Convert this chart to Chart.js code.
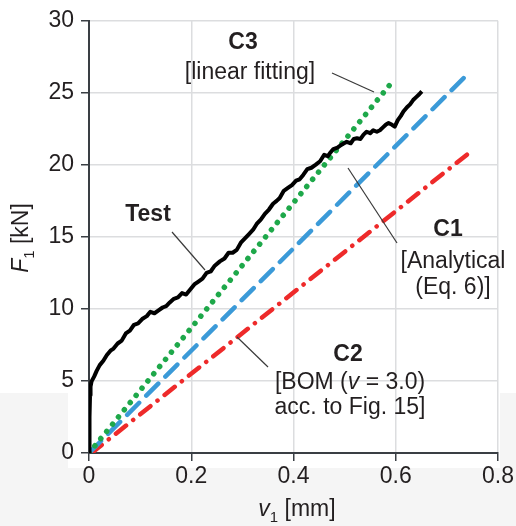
<!DOCTYPE html>
<html>
<head>
<meta charset="utf-8">
<script src="https://cdn.jsdelivr.net/npm/chart.js@4.4.1/dist/chart.umd.min.js"></script>
<style>
  html, body { margin: 0; padding: 0; background: #fff; }
  #wrap { width: 516px; height: 526px; }
</style>
</head>
<body>
<div id="wrap"><canvas id="LoadChart" width="516" height="526"></canvas></div>
<script>
(function () {
  "use strict";

  // Tick values
  const xTicks = [0, 0.2, 0.4, 0.6, 0.8];
  const yTicks = [0, 5, 10, 15, 20, 25, 30];

  // Test curve (v1 in mm, F1 in kN)
  const testV = [
    0, 0.001, 0.002, 0.003, 0.005, 0.010, 0.015, 0.021, 0.028, 0.035,
    0.042, 0.048, 0.056, 0.064, 0.072, 0.080, 0.088, 0.096, 0.104, 0.113,
    0.120, 0.128, 0.136, 0.144, 0.151, 0.158, 0.166, 0.174, 0.182, 0.190,
    0.198, 0.206, 0.214, 0.222, 0.230, 0.238, 0.246, 0.256, 0.265, 0.273,
    0.281, 0.289, 0.297, 0.305, 0.313, 0.321, 0.328, 0.336, 0.344, 0.352,
    0.360, 0.367, 0.373, 0.381, 0.389, 0.397, 0.405, 0.412, 0.419, 0.427,
    0.435, 0.443, 0.452, 0.460, 0.467, 0.471, 0.478, 0.486, 0.494, 0.504,
    0.512, 0.518, 0.524, 0.531, 0.537, 0.543, 0.550, 0.556, 0.563, 0.569,
    0.575, 0.581, 0.586, 0.592, 0.598, 0.604, 0.610, 0.615, 0.622, 0.628,
    0.634, 0.640, 0.646, 0.651
  ];
  const testF = [
    0, 2.5, 4.0, 4.6, 4.97, 5.3, 5.7, 6.1, 6.4, 6.8,
    7.1, 7.25, 7.6, 7.8, 8.3, 8.5, 8.9, 9.0, 9.3, 9.5,
    9.8, 9.7, 9.9, 10.1, 10.2, 10.45, 10.7, 10.8, 11.1, 11.0,
    11.35, 11.7, 11.9, 12.1, 12.5, 12.6, 13.0, 13.3, 13.5, 13.9,
    13.9, 14.1, 14.6, 14.9, 15.2, 15.5, 15.9, 16.2, 16.6, 16.9,
    17.3, 17.5, 17.7, 18.2, 18.4, 18.6, 18.9, 19.0, 19.3, 19.7,
    19.8, 20.0, 20.25, 20.7, 20.6, 20.8, 21.1, 21.2, 21.4, 21.6,
    21.5, 21.8, 21.85, 21.8, 22.1, 22.3, 22.2, 22.4, 22.3, 22.4,
    22.6, 22.8, 22.9, 22.8, 22.65, 23.1, 23.4, 23.7, 24.0, 24.2,
    24.5, 24.7, 24.9, 25.1
  ];

  // C1 analytical, C2 BOM, C3 linear fitting
  const c1V = [0, 0.735];
  const c1F = [0, 26.1];
  const c2V = [0.005, 0.746];
  const c2F = [0, 20.9];
  const c3V = [0, 0.594];
  const c3F = [0, 25.8];

  // Colors
  const text_dark  = '#231f20';
  const line_black = '#000000';
  const line_blue  = '#3b9ad8';
  const line_red   = '#ee2a2a';
  const line_green = '#1ea84a';
  const grid_gray  = '#dcdddf';

  const FONT = '"Liberation Sans", Arial, sans-serif';
  const FS = 23;

  function pts(xs, ys) {
    return xs.map(function (x, i) { return { x: x, y: ys[i] }; });
  }

  // background incl. the light grey band at the bottom of the scan
  const bgPlugin = {
    id: 'bg',
    beforeDraw: function (chart) {
      const c = chart.ctx;
      c.save();
      c.fillStyle = '#ffffff';
      c.fillRect(0, 0, chart.width, chart.height);
      c.fillStyle = '#f5f5f5';
      c.fillRect(0, 393, chart.width, chart.height - 393);
      c.fillStyle = '#ffffff';
      c.fillRect(68, 393, 432, 75);
      c.restore();
    }
  };

  function mixed(c, parts, cx, y) {
    // parts: [text, italic, bold]
    let total = 0;
    parts.forEach(function (p) {
      c.font = (p[1] ? 'italic ' : '') + (p[2] ? 'bold ' : '') + FS + 'px ' + FONT;
      p.w = c.measureText(p[0]).width;
      total += p.w;
    });
    let x = cx - total / 2;
    c.textAlign = 'left';
    parts.forEach(function (p) {
      c.font = (p[1] ? 'italic ' : '') + (p[2] ? 'bold ' : '') + FS + 'px ' + FONT;
      c.fillText(p[0], x, y);
      x += p.w;
    });
  }

  // labels, leader lines and axis titles
  const notePlugin = {
    id: 'notes',
    afterDraw: function (chart) {
      const c = chart.ctx;
      c.save();
      c.fillStyle = text_dark;
      c.textBaseline = 'middle';

      // leader lines
      c.strokeStyle = '#3a3a3a';
      c.lineWidth = 1.2;
      [[332, 73, 374, 92], [172, 232, 205, 270], [348, 168, 397, 243], [237, 337, 268, 367]].forEach(function (l) {
        c.beginPath();
        c.moveTo(l[0], l[1]);
        c.lineTo(l[2], l[3]);
        c.stroke();
      });

      mixed(c, [['C3', false, true]], 243, 43);
      mixed(c, [['[linear fitting]', false, false]], 250, 73);
      mixed(c, [['Test', false, true]], 148, 215);
      mixed(c, [['C1', false, true]], 448, 230);
      mixed(c, [['[Analytical', false, false]], 453, 262);
      mixed(c, [['(Eq. 6)]', false, false]], 453, 288);
      mixed(c, [['C2', false, true]], 348, 355);
      mixed(c, [['[BOM (', false, false], ['v', true, false], [' = 3.0)', false, false]], 350, 383);
      mixed(c, [['acc. to Fig. 15]', false, false]], 350, 408);

      // x title: v1 [mm]
      c.font = 'italic ' + FS + 'px ' + FONT;
      const wv = c.measureText('v').width;
      c.font = '15px ' + FONT;
      const w1 = c.measureText('1').width;
      c.font = FS + 'px ' + FONT;
      const wm = c.measureText(' [mm]').width;
      let x0 = 297 - (wv + w1 + wm) / 2;
      c.textAlign = 'left';
      c.font = 'italic ' + FS + 'px ' + FONT;
      c.fillText('v', x0, 510);
      c.font = '15px ' + FONT;
      c.fillText('1', x0 + wv, 518);
      c.font = FS + 'px ' + FONT;
      c.fillText(' [mm]', x0 + wv + w1, 510);

      // y title: F1 [kN]
      c.translate(22, 238);
      c.rotate(-Math.PI / 2);
      c.font = 'italic ' + FS + 'px ' + FONT;
      const wf = c.measureText('F').width;
      c.font = FS + 'px ' + FONT;
      const wk = c.measureText(' [kN]').width;
      x0 = -(wf + w1 + wk) / 2;
      c.font = 'italic ' + FS + 'px ' + FONT;
      c.fillText('F', x0, 0);
      c.font = '15px ' + FONT;
      c.fillText('1', x0 + wf, 8);
      c.font = FS + 'px ' + FONT;
      c.fillText(' [kN]', x0 + wf + w1, 0);
      c.restore();
    }
  };

  const ctx = document.getElementById('LoadChart').getContext('2d');
  const LoadChart = new Chart(ctx, {
    type: 'line',
    data: {
      datasets: [{
        label: 'Test',
        data: pts(testV, testF),
        borderColor: line_black,
        borderWidth: 4,
        borderJoinStyle: 'round',
        pointRadius: 0,
        tension: 0,
        order: 0
      },
      {
        label: 'C3',
        data: pts(c3V, c3F),
        borderColor: line_green,
        borderWidth: 5.5,
        borderDash: [0.1, 9.2],
        borderCapStyle: 'round',
        pointRadius: 0,
        order: 1
      },
      {
        label: 'C1',
        data: pts(c1V, c1F),
        borderColor: line_blue,
        borderWidth: 4.5,
        borderDash: [17, 10],
        borderCapStyle: 'round',
        pointRadius: 0,
        order: 2
      },
      {
        label: 'C2',
        data: pts(c2V, c2F),
        borderColor: line_red,
        borderWidth: 4.5,
        borderDash: [13, 9, 0.1, 9],
        borderCapStyle: 'round',
        pointRadius: 0,
        order: 3
      }]
    },
    options: {
      responsive: false,
      animation: false,
      layout: {
        padding: { top: 14, right: 18, left: 0, bottom: 0 }
      },
      plugins: {
        legend: { display: false },
        tooltip: { enabled: false }
      },
      scales: {
        x: {
          type: 'linear',
          min: 0,
          max: 0.8,
          afterBuildTicks: function (s) { s.ticks = xTicks.map(function (v) { return { value: v }; }); },
          afterFit: function (s) { s.height = 73; },
          grid: { color: grid_gray, lineWidth: 1.5, tickLength: 8, tickColor: '#3a3f44' },
          border: { color: '#3a3f44', width: 2 },
          ticks: {
            color: text_dark,
            padding: 2,
            font: { size: FS, family: FONT },
            callback: function (v) { return String(v); }
          }
        },
        y: {
          min: 0,
          max: 30,
          afterBuildTicks: function (s) { s.ticks = yTicks.map(function (v) { return { value: v }; }); },
          afterFit: function (s) { s.width = 89; },
          grid: { color: grid_gray, lineWidth: 1.5, tickLength: 8, tickColor: '#3a3f44' },
          border: { color: '#3a3f44', width: 2 },
          ticks: {
            color: text_dark,
            padding: 7,
            font: { size: FS, family: FONT }
          }
        }
      }
    },
    plugins: [bgPlugin, notePlugin]
  });
})();
</script>
</body>
</html>
